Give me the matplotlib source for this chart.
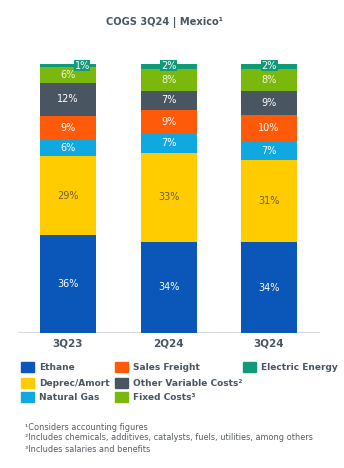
import numpy as np
import matplotlib
matplotlib.use("Agg")
import matplotlib.pyplot as plt
from matplotlib.patches import Rectangle

plt.rcParams['font.family'] = ['DejaVu Sans']

# ---- data ----
periods = ["3Q23", "2Q24", "3Q24"]
series = ["Ethane", "Deprec/Amort", "Natural Gas", "Sales Freight",
          "Other Variable Costs²", "Fixed Costs³", "Electric Energy"]
ethane = [36, 34, 34]
deprec = [29, 33, 31]
natgas = [6, 7, 7]
freight = [9, 9, 10]
other_var = [12, 7, 9]
fixed = [6, 8, 8]
electric = [1, 2, 2]
values = [ethane, deprec, natgas, freight, other_var, fixed, electric]

colors = ["#0B56B9", "#FFCC00", "#10A8E0", "#FF5A0A", "#4A5562", "#7AB80E", "#0F9B78"]
label_colors = ["white", "#6B5E2A", "white", "white", "white", "#F4F4E0", "white"]
TXT = "#4A5562"

W, H = 344, 468
fig = plt.figure(figsize=(W / 100, H / 100), dpi=100)

def fx(px): return px / W
def fy(py): return 1 - py / H

# axes: baseline at y=333, 100% at y=64; axis line from x=18 to x=320
ax = fig.add_axes([fx(18), fy(333), fx(320) - fx(18), (333 - 64) / H])
ax.set_xlim(-0.4975, 2.507)
ax.set_ylim(0, 100)
ax.axis("off")
ax.axhline(0, color="#D0D4D8", lw=1.2, zorder=1)

x = np.arange(len(periods))
bw = 0.557
raw = np.array(values, float)
heights = raw / raw.sum(axis=0) * 100  # each bar drawn as a full 100% stack
bottom = np.zeros(len(periods))
for i, c in enumerate(colors):
    h = heights[i]
    ax.bar(x, h, bw, bottom=bottom, color=c, edgecolor="none", zorder=2)
    for j in range(len(periods)):
        lab = f"{int(raw[i, j])}%"
        if i < len(values) - 1:
            ax.text(x[j], bottom[j] + h[j] / 2, lab, ha="center", va="center",
                    fontsize=7, color=label_colors[i], zorder=4)
        else:
            xx = x[j] + (0.14 if j == 0 else 0)
            ax.text(xx, bottom[j] + h[j] - 0.6, lab, ha="center", va="center",
                    fontsize=7, color="white", zorder=5,
                    bbox=dict(boxstyle="square,pad=0.08", fc=c, ec="none"))
    bottom += h

# category labels
for j, p in enumerate(periods):
    xd = ax.transData.transform((x[j], 0))[0]
    fig.text(xd / fig.dpi / fig.get_figwidth(), fy(343), p, ha="center", va="center",
             fontsize=7.5, fontweight="bold", color=TXT)

# title
fig.text(fx(165), fy(23), "COGS 3Q24 | Mexico¹", ha="center", va="center",
         fontsize=7.1, fontweight="bold", color=TXT)

# legend
leg_pos = [(21, 367), (21, 383), (21, 397), (115, 367), (115, 383), (115, 397), (243, 367)]
for k, (px, py) in enumerate(leg_pos):
    fig.patches.append(Rectangle((fx(px), fy(py + 5)), 13 / W, 10 / H,
                                 transform=fig.transFigure, color=colors[k]))
    fig.text(fx(px + 18), fy(py), series[k], ha="left", va="center",
             fontsize=6.5, fontweight="bold", color=TXT)

# footnotes
notes = ["¹Considers accounting figures",
         "²Includes chemicals, additives, catalysts, fuels, utilities, among others",
         "³Includes salaries and benefits"]
for n, py in zip(notes, [427, 438, 449]):
    fig.text(fx(25), fy(py), n, ha="left", va="center", fontsize=5.9, color="#555C63")

fig.savefig("out.png", dpi=100)
